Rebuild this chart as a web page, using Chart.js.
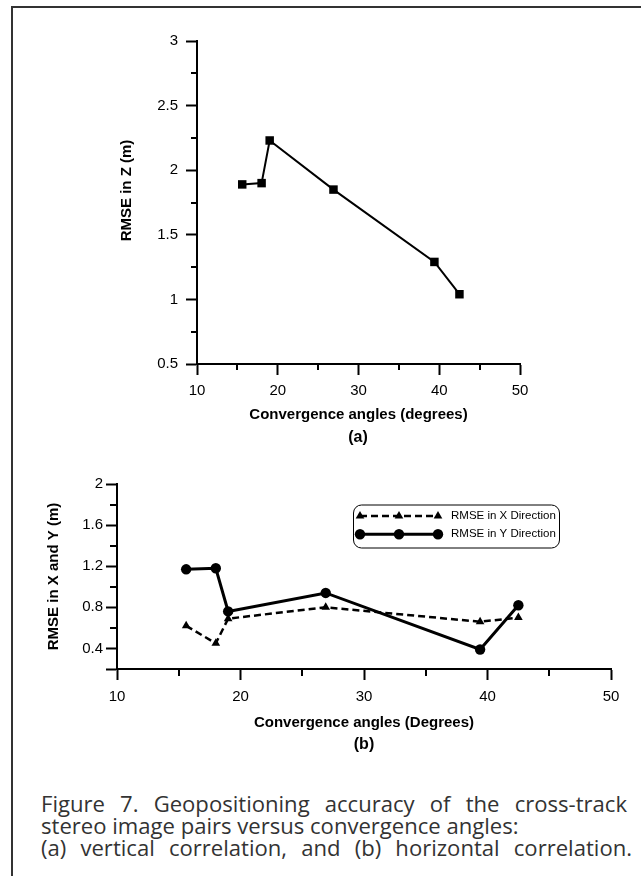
<!DOCTYPE html>
<html><head><meta charset="utf-8">
<script src="https://cdn.jsdelivr.net/npm/chart.js@4.4.1/dist/chart.umd.min.js"></script>
<style>
html,body{margin:0;padding:0;background:#fff;}
body{width:641px;height:876px;position:relative;overflow:hidden;}
#frame{position:absolute;left:11px;top:6px;width:660px;height:900px;border-left:2px solid #333;border-top:2px solid #333;}
#c1{position:absolute;left:0;top:0;}
#c2{position:absolute;left:0;top:460px;}
.sub{position:absolute;font:bold 16px "Liberation Sans",Arial,sans-serif;color:#000;transform:translate(-50%,-50%);white-space:nowrap;}
#caption{position:absolute;left:41px;top:792px;font-family:"Open Sans",sans-serif;font-size:19px;color:#333;line-height:22px;white-space:nowrap;}
#caption span{display:block;height:22px;}
</style>
</head><body>
<div id="frame"></div>
<canvas id="c1" width="641" height="460"></canvas>
<canvas id="c2" width="641" height="300"></canvas>
<div class="sub" style="left:358px;top:437px;">(a)</div>
<div class="sub" style="left:364px;top:744px;">(b)</div>
<div id="caption"><span data-w="586" data-j="1">Figure 7. Geopositioning accuracy of the cross-track</span><span data-w="478">stereo image pairs versus convergence angles:</span><span data-w="591" data-j="1">(a) vertical correlation, and (b) horizontal correlation.</span></div>
<script>
// ---- data ----
const anglesZ = [15.6, 18.0, 19.0, 26.9, 39.4, 42.5];
const rmseZ   = [1.89, 1.90, 2.23, 1.85, 1.29, 1.04];
const anglesXY = [15.6, 18.0, 19.0, 26.9, 39.4, 42.5];
const rmseX   = [0.62, 0.45, 0.69, 0.80, 0.66, 0.70];
const rmseY   = [1.17, 1.18, 0.76, 0.94, 0.39, 0.82];
const xTicksMinor = [15, 25, 35, 45];
const zTicksMinor = [0.75, 1.25, 1.75, 2.25, 2.75];
const xyTicksMinor = [0.6, 1.0, 1.4, 1.8];

// caption: size from the middle line, justify lines 1 and 3 with word spacing
(function(){
  const cap = document.getElementById('caption');
  const spans = Array.from(cap.querySelectorAll('span'));
  spans.forEach(s => { s.style.display = 'inline-block'; });
  const w2 = spans[1].getBoundingClientRect().width;
  cap.style.fontSize = (19 * (+spans[1].dataset.w) / w2) + 'px';
  spans.forEach(s => {
    if (!s.dataset.j) return;
    const w = s.getBoundingClientRect().width;
    const nsp = (s.textContent.match(/ /g) || []).length;
    s.style.wordSpacing = ((+s.dataset.w - w) / nsp) + 'px';
  });
  spans.forEach(s => { s.style.display = 'block'; });
})();

const FAM = '"Liberation Sans", Arial, sans-serif';
const tickFont = {family: FAM, size: 15};
const titleFont = {family: FAM, size: 15, weight: 'bold', lineHeight: 1.2};

const minorTicks = {
  id: 'minorTicks',
  afterDraw(chart, args, opts) {
    const ctx = chart.ctx, a = chart.chartArea;
    const xs = chart.scales.x, ys = chart.scales.y;
    ctx.save();
    ctx.strokeStyle = '#000'; ctx.lineWidth = 2;
    (opts.x || []).forEach(v => {
      const px = Math.round(xs.getPixelForValue(v));
      ctx.beginPath(); ctx.moveTo(px, a.bottom); ctx.lineTo(px, a.bottom + opts.len); ctx.stroke();
    });
    (opts.y || []).forEach(v => {
      const py = Math.round(ys.getPixelForValue(v));
      ctx.beginPath(); ctx.moveTo(a.left, py); ctx.lineTo(a.left - opts.len, py); ctx.stroke();
    });
    ctx.restore();
  }
};

function marker(ctx, style, r, x, y) {
  ctx.beginPath();
  if (style === 'circle') {
    ctx.arc(x, y, r, 0, Math.PI * 2);
  } else if (style === 'triangle') {
    ctx.moveTo(x, y - r);
    ctx.lineTo(x + r * Math.sin(Math.PI * 2 / 3), y - r * Math.cos(Math.PI * 2 / 3));
    ctx.lineTo(x + r * Math.sin(Math.PI * 4 / 3), y - r * Math.cos(Math.PI * 4 / 3));
    ctx.closePath();
  } else {
    const s = Math.SQRT1_2 * r;
    ctx.rect(x - s, y - s, 2 * s, 2 * s);
  }
  ctx.fill();
}

const boxLegend = {
  id: 'boxLegend',
  afterDatasetsDraw(chart) {
    const ctx = chart.ctx, a = chart.chartArea;
    const bx = a.right - 258, by = a.top + 20.5, bw = 206, bh = 43;
    ctx.save();
    ctx.strokeStyle = '#000'; ctx.lineWidth = 1;
    ctx.beginPath();
    if (ctx.roundRect) ctx.roundRect(bx + 0.5, by + 0.5, bw, bh, 8); else ctx.rect(bx + 0.5, by + 0.5, bw, bh);
    ctx.stroke();
    chart.data.datasets.forEach((ds, i) => {
      const y = by + 11.5 + i * 18.3;
      ctx.strokeStyle = '#000'; ctx.fillStyle = '#000';
      ctx.lineWidth = ds.borderWidth;
      ctx.setLineDash(ds.borderDash || []);
      ctx.beginPath(); ctx.moveTo(bx + 7, y); ctx.lineTo(bx + 85, y); ctx.stroke();
      ctx.setLineDash([]);
      [7, 46, 85].forEach(dx => marker(ctx, ds.pointStyle, ds.pointRadius, bx + dx, y));
      ctx.font = '11.5px ' + FAM;
      ctx.textBaseline = 'middle'; ctx.textAlign = 'left';
      ctx.fillText(ds.label, bx + 98, y);
    });
    ctx.restore();
  }
};

// shift a scale's title along the axis (title is still drawn by Chart.js)
function shiftTitle(s, dy) {
  if (s._titleShifted) return;
  const orig = s.drawTitle;
  s.drawTitle = function() {
    this.ctx.save(); this.ctx.translate(0, dy); orig.call(this); this.ctx.restore();
  };
  s._titleShifted = true;
}

const numLabel = v => String(Math.round(v * 100) / 100);

// ---- chart (a) ----
new Chart(document.getElementById('c1'), {
  type: 'scatter',
  data: {
    datasets: [{
      label: 'RMSE in Z',
      data: anglesZ.map((x, i) => ({x: x, y: rmseZ[i]})),
      showLine: true, borderColor: '#000', borderWidth: 2, tension: 0,
      pointStyle: 'rect', pointRadius: 6, pointHoverRadius: 6,
      pointBackgroundColor: '#000', pointBorderColor: '#000', pointBorderWidth: 0
    }]
  },
  options: {
    responsive: false, animation: false, devicePixelRatio: 1,
    layout: {padding: {left: 108, top: 41, right: 121, bottom: 36}},
    plugins: {legend: {display: false}, tooltip: {enabled: false},
      minorTicks: {x: xTicksMinor, y: zTicksMinor, len: 6}},
    scales: {
      x: {
        type: 'linear', min: 10, max: 50,
        ticks: {stepSize: 10, font: tickFont, color: '#000', padding: 7, callback: numLabel, maxRotation: 0},
        grid: {drawOnChartArea: false, drawTicks: true, tickLength: 11, tickWidth: 2, tickColor: '#000'},
        border: {display: true, color: '#000', width: 2},
        title: {display: true, text: 'Convergence angles (degrees)', font: titleFont, color: '#000', padding: {top: 0, bottom: 0}},
        afterFit: s => { s.height = 60; }
      },
      y: {
        type: 'linear', min: 0.5, max: 3,
        ticks: {stepSize: 0.5, font: tickFont, color: '#000', padding: 8, callback: numLabel},
        grid: {drawOnChartArea: false, drawTicks: true, tickLength: 11, tickWidth: 2, tickColor: '#000'},
        border: {display: true, color: '#000', width: 2},
        title: {display: true, text: 'RMSE in Z (m)', font: titleFont, color: '#000', padding: {top: 10, bottom: 0}},
        afterFit: s => { s.width = 89; shiftTitle(s, -12); }
      }
    }
  },
  plugins: [minorTicks]
});

// ---- chart (b) ----
new Chart(document.getElementById('c2'), {
  type: 'scatter',
  data: {
    datasets: [{
      label: 'RMSE in X Direction',
      data: anglesXY.map((x, i) => ({x: x, y: rmseX[i]})),
      showLine: true, borderColor: '#000', borderWidth: 2.5, borderDash: [7, 4], tension: 0,
      pointStyle: 'triangle', pointRadius: 5, pointHoverRadius: 5,
      pointBackgroundColor: '#000', pointBorderColor: '#000', pointBorderWidth: 0
    }, {
      label: 'RMSE in Y Direction',
      data: anglesXY.map((x, i) => ({x: x, y: rmseY[i]})),
      showLine: true, borderColor: '#000', borderWidth: 3, tension: 0,
      pointStyle: 'circle', pointRadius: 5.2, pointHoverRadius: 5.2,
      pointBackgroundColor: '#000', pointBorderColor: '#000', pointBorderWidth: 0
    }]
  },
  options: {
    responsive: false, animation: false, devicePixelRatio: 1,
    layout: {padding: {left: 40, top: 24, right: 30, bottom: 26}},
    plugins: {legend: {display: false}, tooltip: {enabled: false},
      minorTicks: {x: xTicksMinor, y: xyTicksMinor, len: 7}},
    scales: {
      x: {
        type: 'linear', min: 10, max: 50,
        ticks: {stepSize: 10, font: tickFont, color: '#000', padding: 8, callback: numLabel, maxRotation: 0},
        grid: {drawOnChartArea: false, drawTicks: true, tickLength: 11, tickWidth: 2, tickColor: '#000'},
        border: {display: true, color: '#000', width: 2},
        title: {display: true, text: 'Convergence angles (Degrees)', font: titleFont, color: '#000', padding: {top: 0, bottom: 2.5}},
        afterFit: s => { s.height = 65; }
      },
      y: {
        type: 'linear', min: 0.2, max: 2,
        ticks: {stepSize: 0.4, font: tickFont, color: '#000', padding: 3,
          callback: v => (Math.abs(v - 0.2) < 1e-6 ? '' : numLabel(v))},
        grid: {drawOnChartArea: false, drawTicks: true, tickLength: 11, tickWidth: 2, tickColor: '#000'},
        border: {display: true, color: '#000', width: 2},
        title: {display: true, text: 'RMSE in X and Y (m)', font: titleFont, color: '#000', padding: {top: 5, bottom: 0}},
        afterFit: s => { s.width = 77; }
      }
    }
  },
  plugins: [minorTicks, boxLegend]
});
</script>
</body></html>
